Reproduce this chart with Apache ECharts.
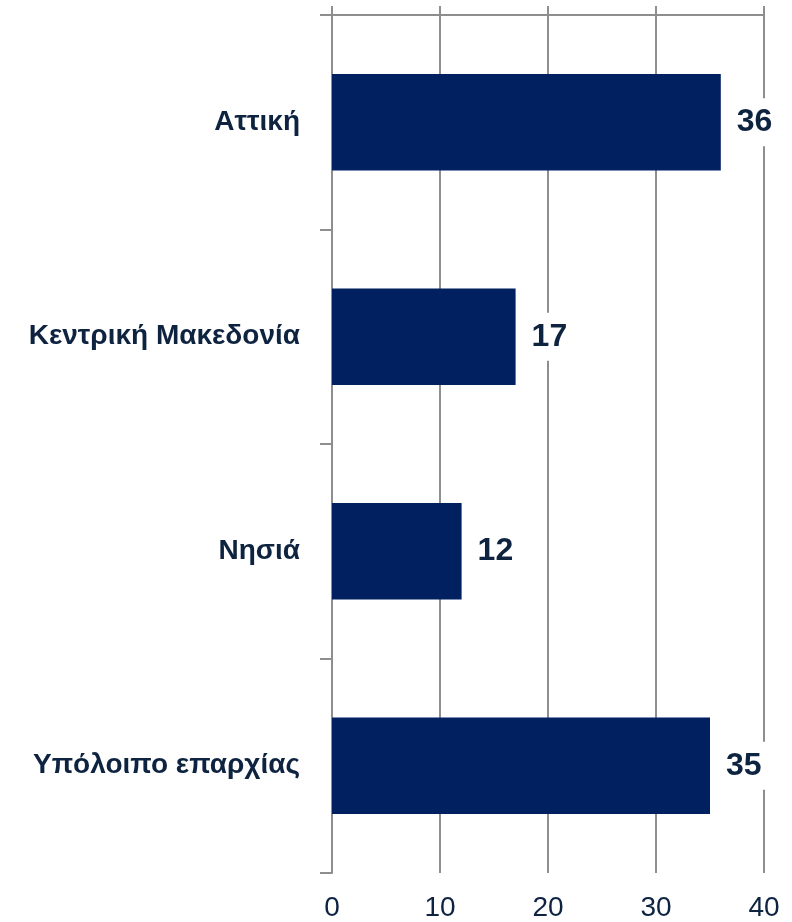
<!DOCTYPE html>
<html>
<head>
<meta charset="utf-8">
<script src="https://cdn.jsdelivr.net/npm/echarts@6/dist/echarts.min.js"></script>
<style>
  html, body { margin: 0; padding: 0; background: #ffffff; }
  #chart { width: 792px; height: 922px; }
</style>
</head>
<body>
<div id="chart"></div>
<script>
// Regions and their values
const categories = ['Αττική', 'Κεντρική Μακεδονία', 'Νησιά', 'Υπόλοιπο επαρχίας'];
const values = [36, 17, 12, 35];
const axisMin = 0;
const axisMax = 40;
const axisStep = 10;

const FONT = '"Liberation Sans", Arial, sans-serif';
const TEXT = '#0d2340';
const GRID = '#8e8e8e';

const chart = echarts.init(document.getElementById('chart'), null, { renderer: 'canvas' });

chart.setOption({
  animation: false,
  backgroundColor: '#ffffff',
  grid: { left: 332, right: 28, top: 15, bottom: 49, containLabel: false },
  xAxis: [
    {
      // top axis: line, outward ticks and the vertical grid
      type: 'value', position: 'top', min: axisMin, max: axisMax, interval: axisStep,
      axisLine: { show: true, lineStyle: { color: GRID, width: 2 } },
      axisTick: { show: true, inside: false, length: 9, lineStyle: { color: GRID, width: 2 } },
      axisLabel: { show: false },
      splitLine: { show: true, lineStyle: { color: GRID, width: 2 } }
    },
    {
      // bottom axis: numbers only
      type: 'value', position: 'bottom', min: axisMin, max: axisMax, interval: axisStep,
      axisLine: { show: false },
      axisTick: { show: false },
      splitLine: { show: false },
      axisLabel: { show: true, margin: 21, color: TEXT, fontFamily: FONT, fontSize: 28 }
    }
  ],
  yAxis: {
    type: 'category', inverse: true, data: categories,
    axisLine: { show: true, lineStyle: { color: GRID, width: 2 } },
    axisTick: { show: true, length: 12, lineStyle: { color: GRID, width: 2 } },
    axisLabel: { margin: 32, color: TEXT, fontFamily: FONT, fontSize: 28, fontWeight: 'bold' },
    splitLine: { show: false }
  },
  series: [{
    type: 'bar', xAxisIndex: 0, data: values, barWidth: '45%',
    itemStyle: { color: '#002060' },
    label: {
      show: true, position: 'right', distance: 10,
      color: TEXT, fontFamily: FONT, fontSize: 32, lineHeight: 34, fontWeight: 'bold',
      backgroundColor: '#ffffff', padding: [7, 6]
    }
  }]
});
</script>
</body>
</html>
